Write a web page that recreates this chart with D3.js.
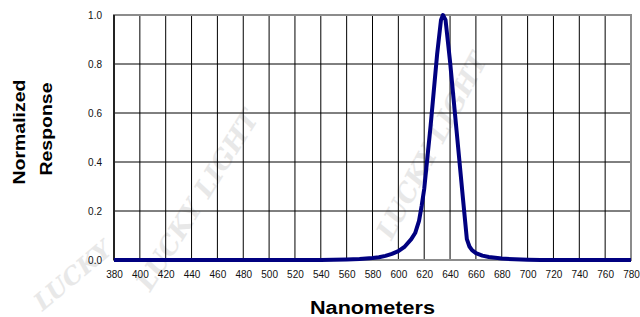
<!DOCTYPE html>
<html lang="en">
<head>
    <meta charset="UTF-8">
    <title>spectral-response</title>
    <style>
        html, body {
            margin: 0;
            padding: 0;
            background: #fff;
        }
        svg text {
            font-family: "Liberation Sans", Arial, Helvetica, sans-serif;
        }
    </style>
    <script src="https://d3js.org/d3.v7.min.js"></script>
</head>
<body>

<script>

    // wavelength (nm) and normalized response
    let wavelengths = [380, 400, 420, 440, 460, 480, 500, 520, 540, 550, 560, 570, 580, 585, 590,
        595, 600, 605, 610, 613, 616, 618, 620, 625, 630, 633, 634.5, 636.5, 640, 645,
        650, 653, 655, 657, 660, 665, 670, 680, 690, 700, 710, 720, 740, 760, 780];
    let response = [0, 0, 0, 0, 0, 0, 0, 0, 0, 0.001, 0.002, 0.004, 0.008, 0.011, 0.017,
        0.025, 0.036, 0.055, 0.085, 0.11, 0.16, 0.22, 0.29, 0.55, 0.84, 0.98, 1.0, 0.98, 0.81, 0.53,
        0.25, 0.085, 0.055, 0.04, 0.028, 0.018, 0.012, 0.006, 0.003, 0.001, 0, 0, 0, 0, 0];

    let xTicks = d3.range(380, 781, 20);
    let yTicks = [0, 0.2, 0.4, 0.6, 0.8, 1.0];

    let width = 640;
    let height = 317;
    let plotLeft = 114, plotRight = 631, plotTop = 15, plotBottom = 260;

    let svg = d3.select("body").append("svg")
        .attr("width", width)
        .attr("height", height);

    svg.append("rect")
        .attr("width", width)
        .attr("height", height)
        .attr("fill", "#fff");

    let x = d3.scaleLinear().domain([380, 780]).range([plotLeft, plotRight]);
    let y = d3.scaleLinear().domain([0, 1]).range([plotBottom, plotTop]);

    // faint watermark behind the chart
    let marks = [
        {t: "LUCKY LIGHT", x: 205, y: 205, r: -58, s: 26},
        {t: "LUCKY LIGHT", x: 440, y: 150, r: -62, s: 26},
        {t: "LUCKY", x: 78, y: 282, r: -40, s: 24}
    ];
    svg.append("g")
        .selectAll("text")
        .data(marks)
        .enter()
        .append("text")
        .attr("transform", d => "translate(" + d.x + "," + d.y + ") rotate(" + d.r + ")")
        .attr("text-anchor", "middle")
        .style("font-family", "'DejaVu Serif', serif")
        .style("font-style", "italic")
        .style("font-weight", "bold")
        .style("font-size", d => d.s + "px")
        .attr("fill", "#e8e8e8")
        .text(d => d.t);

    // grid
    let grid = svg.append("g");
    grid.selectAll("line.v")
        .data(xTicks)
        .enter()
        .append("line")
        .attr("class", "v")
        .attr("x1", d => x(d)).attr("x2", d => x(d))
        .attr("y1", plotTop).attr("y2", plotBottom)
        .attr("stroke", "#000")
        .attr("stroke-width", 1);
    grid.selectAll("line.h")
        .data(yTicks)
        .enter()
        .append("line")
        .attr("class", "h")
        .attr("x1", plotLeft).attr("x2", plotRight)
        .attr("y1", d => y(d)).attr("y2", d => y(d))
        .attr("stroke", "#000")
        .attr("stroke-width", 1);

    // frame: grey top & right, dark left
    svg.append("rect")
        .attr("x", plotLeft).attr("y", plotTop)
        .attr("width", plotRight - plotLeft).attr("height", plotBottom - plotTop)
        .attr("fill", "none")
        .attr("stroke", "#8c8c8c")
        .attr("stroke-width", 2);
    svg.append("line")
        .attr("x1", plotLeft).attr("x2", plotLeft)
        .attr("y1", plotTop).attr("y2", plotBottom)
        .attr("stroke", "#000")
        .attr("stroke-width", 1.5);

    // axes (labels only)
    let xAxis = svg.append("g")
        .attr("transform", "translate(0," + plotBottom + ")")
        .call(d3.axisBottom(x).tickValues(xTicks).tickSize(0).tickPadding(11).tickFormat(d3.format("d")));
    let yAxis = svg.append("g")
        .attr("transform", "translate(" + plotLeft + ",0)")
        .call(d3.axisLeft(y).tickValues(yTicks).tickSize(0).tickPadding(12).tickFormat(d3.format(".1f")));
    [xAxis, yAxis].forEach(function (a) {
        a.select(".domain").remove();
        a.selectAll("text")
            .style("font-size", "10px")
            .style("font-family", "'Liberation Sans', Arial, sans-serif")
            .attr("fill", "#111");
    });

    // curve
    let points = wavelengths.map((w, i) => [w, response[i]]);
    let line = d3.line()
        .x(d => x(d[0]))
        .y(d => y(d[1]));
    svg.append("path")
        .datum(points)
        .attr("d", line)
        .attr("fill", "none")
        .attr("stroke", "#000080")
        .attr("stroke-width", 4)
        .attr("stroke-linejoin", "round");

    // titles
    svg.append("text")
        .attr("transform", "translate(25,132) rotate(-90)")
        .attr("text-anchor", "middle")
        .attr("textLength", 105)
        .attr("lengthAdjust", "spacingAndGlyphs")
        .style("font-size", "17px")
        .style("font-weight", "bold")
        .text("Normalized");
    svg.append("text")
        .attr("transform", "translate(52,129) rotate(-90)")
        .attr("text-anchor", "middle")
        .attr("textLength", 93)
        .attr("lengthAdjust", "spacingAndGlyphs")
        .style("font-size", "17px")
        .style("font-weight", "bold")
        .text("Response");
    svg.append("text")
        .attr("x", 372.5)
        .attr("y", 314)
        .attr("text-anchor", "middle")
        .attr("textLength", 125)
        .attr("lengthAdjust", "spacingAndGlyphs")
        .style("font-size", "18px")
        .style("font-weight", "bold")
        .text("Nanometers");

</script>

</body>
</html>
